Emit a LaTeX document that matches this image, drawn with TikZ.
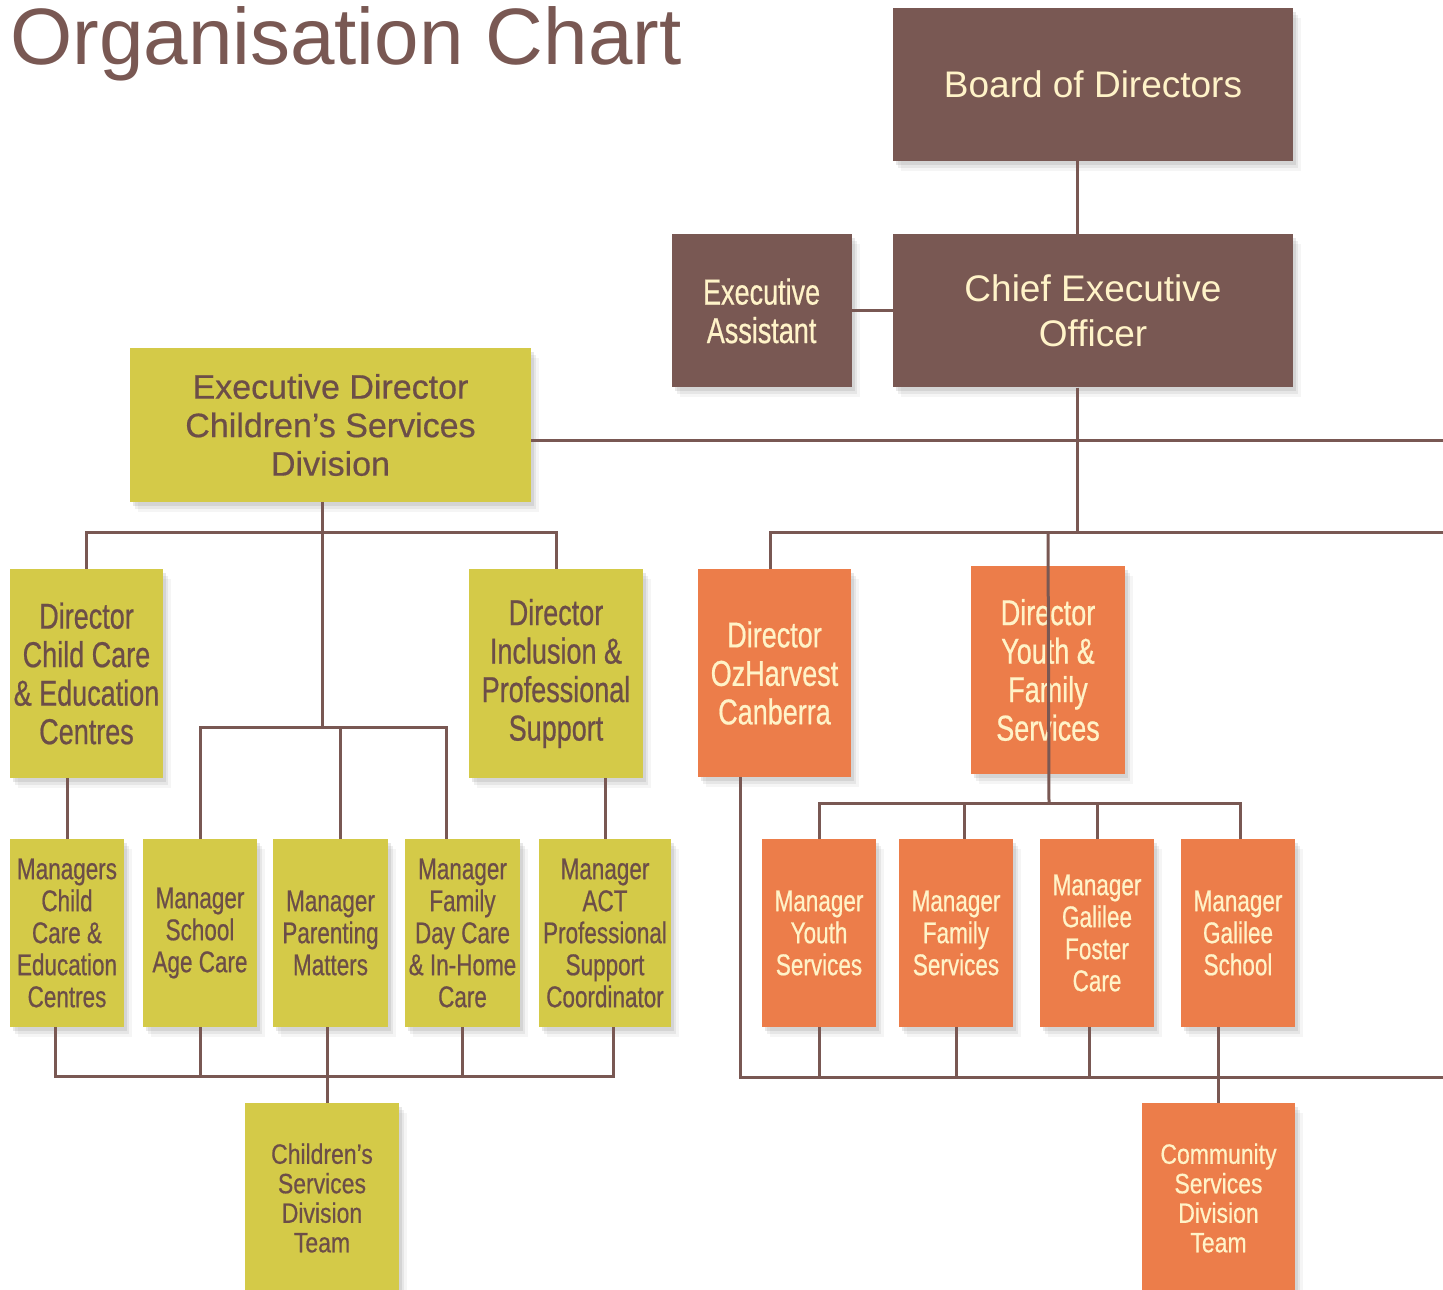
\documentclass[tikz,border=0pt]{standalone}
\usepackage{fontspec}
\setmainfont{Liberation Sans}
\newfontfamily\condfont[FakeStretch=0.75, FakeBold=0.6]{Liberation Sans}
\newfontfamily\teamfont[FakeStretch=0.82, FakeBold=0.5]{Liberation Sans}
\newfontfamily\divfont[FakeBold=0.5]{Liberation Sans}
\usetikzlibrary{positioning}
\usetikzlibrary{shadows}

\definecolor{chartbrown}{RGB}{121,88,83}
\definecolor{chartink}{RGB}{108,78,72}
\definecolor{chartcream}{RGB}{255,243,200}
\definecolor{chartolive}{RGB}{212,202,72}
\definecolor{chartorange}{RGB}{236,125,74}

\begin{document}
\begin{tikzpicture}[
    x=1pt, y=-1pt,
    box/.style={inner sep=0pt, align=center,
        drop shadow={shadow xshift=3pt, shadow yshift=-4pt, opacity=.18},
        drop shadow={shadow xshift=5pt, shadow yshift=-7pt, opacity=.13},
        drop shadow={shadow xshift=8pt, shadow yshift=-10pt, opacity=.08}},
    brownbox/.style={box, fill=chartbrown, text=chartcream},
    olivebox/.style={box, fill=chartolive, text=chartink},
    orangebox/.style={box, fill=chartorange, text=chartcream},
    bigtext/.style={font=\fontsize{37}{45}\selectfont},
    divtext/.style={font=\divfont\fontsize{34}{38.5}\selectfont},
    headtext/.style={font=\condfont\fontsize{36}{38.5}\selectfont},
    smalltext/.style={font=\condfont\fontsize{30}{32}\selectfont},
    teamtext/.style={font=\teamfont\fontsize{28}{29.5}\selectfont},
    link/.style={draw=chartbrown, line width=3pt}
]
    \useasboundingbox (0,0) rectangle (1443,1290);

    % Title
    \node[anchor=base west, inner sep=0pt, text=chartbrown,
          font=\fontsize{80}{81}\selectfont] (title) at (10,65) {Organisation Chart};

    % Top (board, CEO and assistant)
    \node[brownbox, bigtext, minimum width=400, minimum height=153] (board) at (1093,84.5) {Board of Directors};
    \node[brownbox, bigtext, minimum width=400, minimum height=153, below=73pt of board] (ceo) {Chief Executive\\Officer};
    \node[brownbox, headtext, minimum width=180, minimum height=153, left=41pt of ceo] (ea) {Executive\\Assistant};

    % Children's services division
    \node[olivebox, divtext, minimum width=401, minimum height=154] (execdir) at (330.5,425) {Executive Director\\Children’s Services\\Division};
    \node[olivebox, headtext, minimum width=153, minimum height=209] (dcc) at (86.5,673.5) {Director\\Child Care\\\& Education\\Centres};
    \node[olivebox, headtext, minimum width=174, minimum height=209] (dinc) at (556,673.5) {Director\\Inclusion \&\\Professional\\Support};

    \node[olivebox, smalltext, minimum width=114, minimum height=188] (mcc) at (67,933) {Managers\\Child\\Care \&\\Education\\Centres};
    \node[olivebox, smalltext, minimum width=114, minimum height=188] (school) at (200,933) {Manager\\School\\Age Care};
    \node[olivebox, smalltext, minimum width=115, minimum height=188] (parent) at (330.5,933) {Manager\\Parenting\\Matters};
    \node[olivebox, smalltext, minimum width=115, minimum height=188] (fdc) at (462.5,933) {Manager\\Family\\Day Care\\\& In-Home\\Care};
    \node[olivebox, smalltext, minimum width=132, minimum height=188] (act) at (605,933) {Manager\\ACT\\Professional\\Support\\Coordinator};

    \node[olivebox, teamtext, minimum width=154, minimum height=190] (cst) at (322,1198) {Children’s\\Services\\Division\\Team};

    % Community services division
    \node[orangebox, headtext, minimum width=153, minimum height=208] (oz) at (774.5,673) {Director\\OzHarvest\\Canberra};
    \node[orangebox, headtext, minimum width=154, minimum height=208] (dyf) at (1048,670) {Director\\Youth \&\\Family\\Services};

    \node[orangebox, smalltext, minimum width=114, minimum height=188] (mys) at (819,933) {Manager\\Youth\\Services};
    \node[orangebox, smalltext, minimum width=114, minimum height=188] (mfs) at (956,933) {Manager\\Family\\Services};
    \node[orangebox, smalltext, minimum width=114, minimum height=188] (mgf) at (1097,933) {Manager\\Galilee\\Foster\\Care};
    \node[orangebox, smalltext, minimum width=114, minimum height=188] (mgs) at (1238,933) {Manager\\Galilee\\School};

    \node[orangebox, teamtext, minimum width=153, minimum height=190] (cdt) at (1218.5,1198) {Community\\Services\\Division\\Team};

    % Junction points and ends running off the page
    \coordinate (spine) at (1077,532);
    \coordinate (cs) at (322,532);
    \coordinate (ms) at (322,727);
    \coordinate (bs) at (327,1076);
    \coordinate (ybar) at (1049,803);
    \coordinate (edge1) at (1450,440);
    \coordinate (edge2) at (1450,532);
    \coordinate (edge3) at (1450,1077);

    % Top links
    \draw[link] (spine |- board.south) -- (spine |- ceo.north);
    \draw[link] (ea.east) -- (ceo.west);
    \draw[link] (spine |- ceo.south) -- (spine);
    \draw[link] (execdir.east |- edge1) -- (edge1);

    % Children's services links
    \draw[link] (cs |- execdir.south) -- (ms);
    \draw[link] (dcc.north) |- (cs) -| (dinc.north);
    \draw[link] (school.north) |- (ms) -| ([xshift=-16pt]fdc.north);
    \draw[link] ([xshift=10pt]parent.north) -- ([xshift=10pt]parent.north |- ms);
    \draw[link] (mcc.north) -- (mcc.north |- dcc.south);
    \draw[link] (act.north) -- (act.north |- dinc.south);
    \draw[link] ([xshift=-12pt]mcc.south) |- (bs) -| ([xshift=8pt]act.south);
    \draw[link] (school.south) -- (school.south |- bs);
    \draw[link] (fdc.south) -- (fdc.south |- bs);
    \draw[link] (bs |- parent.south) -- (bs |- cst.north);

    % Community services links
    \draw[link] ([xshift=-4pt]oz.north) |- (edge2);
    \draw[link] ([xshift=-34pt]oz.south) |- (edge3);
    \draw[link] (dyf.north |- spine) -- (ybar);
    \draw[link] (mys.north) |- (ybar) -| ([xshift=2pt]mgs.north);
    \draw[link] ([xshift=8pt]mfs.north) -- ([xshift=8pt]mfs.north |- ybar);
    \draw[link] (mgf.north) -- (mgf.north |- ybar);
    \draw[link] (mys.south) -- (mys.south |- edge3);
    \draw[link] (mfs.south) -- (mfs.south |- edge3);
    \draw[link] ([xshift=-8pt]mgf.south) -- ([xshift=-8pt]mgf.south |- edge3);
    \draw[link] (cdt.north) -- (cdt.north |- mgs.south);
\end{tikzpicture}
\end{document}
